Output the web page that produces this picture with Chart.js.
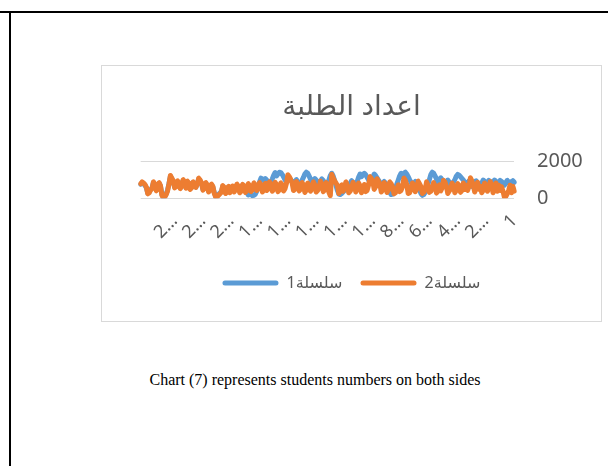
<!DOCTYPE html>
<html>
<head>
<meta charset="utf-8">
<script src="https://cdn.jsdelivr.net/npm/chart.js@4.4.1/dist/chart.umd.min.js"></script>
<style>
  html, body { margin: 0; padding: 0; background: #fff; }
  body { width: 608px; height: 466px; position: relative; overflow: hidden; }
  .rule-top { position: absolute; left: 0; top: 11px; width: 608px; height: 2px; background: #000; }
  .rule-left { position: absolute; left: 9px; top: 11px; width: 2px; height: 455px; background: #000; }
  #frame { position: absolute; left: 101px; top: 65px; width: 501px; height: 257px; }
  #frame canvas { position: absolute; left: 0; top: 0; }
  #frame .edge { position: absolute; left: 0; top: 0; right: 0; bottom: 0; border: 1.5px solid #d9d9d9; pointer-events: none; }
  .caption { position: absolute; left: 0; width: 630px; top: 371px; text-align: center;
             font-family: 'Liberation Serif', 'Times New Roman', serif; font-size: 16px; color: #000; }
</style>
</head>
<body>
<div class="rule-top"></div>
<div class="rule-left"></div>
<div id="frame">
  <canvas id="chart" width="501" height="257"></canvas>
  <div class="edge"></div>
</div>
<div class="caption">Chart (7) represents students numbers on both sides</div>
<script>
// Student counts per record, in category order (category 1 first)
const series1 = [
  860, 940, 780, 880, 820, 960, 840, 700, 820, 900,
  960, 820, 760, 920, 980, 800, 720, 900, 960, 820,
  760, 920, 980, 820, 700, 640, 840, 940, 800, 700,
  640, 820, 940, 820, 700, 860, 980, 1060, 1160, 1240,
  1280, 1180, 1000, 860, 760, 700, 880, 980, 840, 760,
  880, 1000, 1100, 940, 860, 1040, 1200, 1340, 1400, 1260,
  1000, 760, 520, 320, 200, 160, 260, 460, 680, 820,
  900, 780, 700, 860, 1000, 1160, 1300, 1400, 1340, 1160,
  1340, 1200, 980, 760, 520, 320, 220, 200, 320, 520,
  700, 820, 900, 780, 700, 860, 980, 1100, 1220, 1300,
  1120, 940, 860, 1000, 1120, 1260, 1340, 1260, 1160, 1300,
  1140, 900, 780, 720, 860, 940, 800, 700, 600, 500,
  420, 340, 260, 200, 220, 420, 680, 960, 1200, 1340,
  1220, 980, 800, 700, 820, 960, 1040, 900, 780, 880,
  980, 1060, 940, 860, 1020, 1200, 1340, 1400, 1300, 1120,
  960, 820, 760, 880, 1000, 900, 800, 900, 1000, 1100,
  980, 880, 980, 1140, 1280, 1380, 1400, 1300, 1200, 1380,
  1240, 1040, 860, 760, 880, 980, 1060, 940, 1040, 1080,
  880, 600, 380, 220, 160, 140, 200, 240, 180, 320,
  460, 620, 700, 460, 360, 600, 700, 520, 420, 600,
  560, 340, 600, 380, 300, 560, 640, 360, 280, 200,
  120, 100, 300, 600, 720, 480, 380, 680, 800, 560,
  480, 780, 940, 1040, 800, 600, 720, 840, 600, 520,
  780, 880, 580, 800, 960, 700, 560, 780, 900, 660,
  600, 880, 1040, 1180, 800, 440, 240, 100, 60, 200,
  640, 800, 540, 440, 720, 840, 560, 480, 340, 280,
  560, 700, 780, 840, 760
];
const series2 = [
  380, 640, 300, 700, 420, 240, 100, 60, 380, 620,
  420, 700, 380, 820, 460, 300, 720, 900, 520, 380,
  700, 820, 420, 300, 640, 480, 860, 520, 340, 700,
  940, 1100, 640, 420, 700, 480, 820, 420, 320, 680,
  780, 420, 300, 640, 820, 500, 380, 260, 640, 880,
  960, 560, 400, 720, 380, 280, 660, 840, 520, 380,
  320, 700, 880, 460, 320, 260, 640, 780, 920, 480,
  360, 680, 820, 480, 300, 260, 740, 960, 1080, 620,
  420, 360, 720, 440, 300, 240, 620, 780, 880, 440,
  320, 720, 840, 440, 340, 760, 920, 1040, 620, 480,
  900, 1060, 1160, 700, 420, 360, 740, 420, 300, 680,
  820, 460, 340, 680, 860, 520, 380, 300, 720, 880,
  520, 380, 720, 360, 260, 680, 820, 940, 1100, 1280,
  140, 320, 760, 840, 440, 360, 740, 920, 560, 420,
  340, 720, 880, 500, 380, 700, 820, 440, 320, 720,
  840, 480, 400, 760, 900, 480, 420, 820, 1000, 1160,
  1260, 800, 520, 400, 720, 820, 440, 360, 740, 860,
  480, 380, 760, 880, 500, 420, 800, 440, 340, 720,
  840, 520, 420, 720, 820, 460, 360, 680, 780, 400,
  320, 680, 740, 380, 300, 640, 760, 440, 340, 660,
  600, 300, 640, 340, 260, 600, 680, 320, 240, 160,
  80, 60, 260, 640, 760, 440, 340, 720, 840, 520,
  440, 820, 980, 1080, 780, 580, 740, 880, 560, 480,
  820, 920, 540, 840, 1000, 660, 520, 820, 940, 620,
  560, 920, 1080, 1220, 780, 400, 200, 60, 20, 160,
  680, 840, 500, 400, 760, 880, 520, 440, 300, 240,
  600, 740, 820, 880, 780
];
const seriesNames = ['سلسلة1', 'سلسلة2'];
const chartTitle = 'اعداد الطلبة';
const categories = series1.map((_, i) => i + 1);
// categories that carry a visible label on the horizontal axis
const labeledCategories = [1, 21, 41, 61, 81, 101, 121, 141, 161, 181, 201, 221, 241];
const yTickValues = [0, 2000];

const grey = '#595959';
Chart.defaults.font.family = "'Noto Sans', 'DejaVu Sans', sans-serif";
Chart.defaults.color = grey;

// long category numbers are shortened to the first digit plus an ellipsis
function shortLabel(c) {
  const s = String(c);
  return s.length > 1 ? s[0] + '…' : s;
}

new Chart(document.getElementById('chart'), {
  type: 'line',
  data: {
    labels: categories,
    datasets: [
      { label: seriesNames[0], data: series1, order: 2,
        borderColor: '#5B9BD5', backgroundColor: '#5B9BD5' },
      { label: seriesNames[1], data: series2, order: 1,
        borderColor: '#ED7D31', backgroundColor: '#ED7D31' }
    ]
  },
  options: {
    responsive: false,
    animation: false,
    devicePixelRatio: 1,
    layout: { padding: { left: 0, right: 0, top: 0, bottom: 21 } },
    elements: {
      line: { borderWidth: 5, tension: 0, borderJoinStyle: 'round', borderCapStyle: 'round', fill: false },
      point: { radius: 0, hoverRadius: 0 }
    },
    scales: {
      x: {
        type: 'category',
        reverse: true,
        offset: false,
        grid: { display: false },
        border: { display: false },
        ticks: {
          autoSkip: false,
          minRotation: 45,
          maxRotation: 45,
          padding: 4,
          color: grey,
          font: { size: 18 },
          callback: function (value, index) {
            const c = categories[index];
            return labeledCategories.includes(c) ? shortLabel(c) : null;
          }
        },
        afterFit: function (scale) { scale.height = 58.7; }
      },
      y: {
        position: 'right',
        min: yTickValues[0],
        max: yTickValues[yTickValues.length - 1],
        afterBuildTicks: function (scale) { scale.ticks = yTickValues.map(v => ({ value: v })); },
        grid: { color: '#d9d9d9', lineWidth: 1, drawTicks: false },
        border: { display: false },
        ticks: {
          padding: 22.7, color: grey, font: { size: 20 },
          callback: function (value) { return String(value); }
        },
        afterFit: function (scale) { scale.width = 87.7; }
      },
      // empty margin on the left of the plot, keeps title and legend centred in the frame
      gutter: {
        type: 'linear',
        position: 'left',
        grid: { display: false },
        border: { display: false },
        ticks: { display: false },
        afterFit: function (scale) { scale.width = 39.7; }
      }
    },
    plugins: {
      tooltip: { enabled: false },
      title: {
        display: true,
        text: chartTitle,
        color: grey,
        font: { size: 28, weight: 'normal' },
        padding: { top: 25.2, bottom: 37.2 }
      },
      legend: {
        position: 'bottom',
        reverse: true,
        labels: {
          boxWidth: 56,
          boxHeight: 5,
          useBorderRadius: true,
          borderRadius: 2.5,
          padding: 18,
          color: grey,
          font: { size: 16 },
          generateLabels: function (chart) {
            // series names are laid out right-to-left inside a left-to-right legend
            return Chart.defaults.plugins.legend.labels.generateLabels(chart)
              .map(item => Object.assign(item, { lineWidth: 0, text: '\u202B' + item.text + '\u202C' }));
          }
        }
      }
    }
  }
});
</script>
</body>
</html>
